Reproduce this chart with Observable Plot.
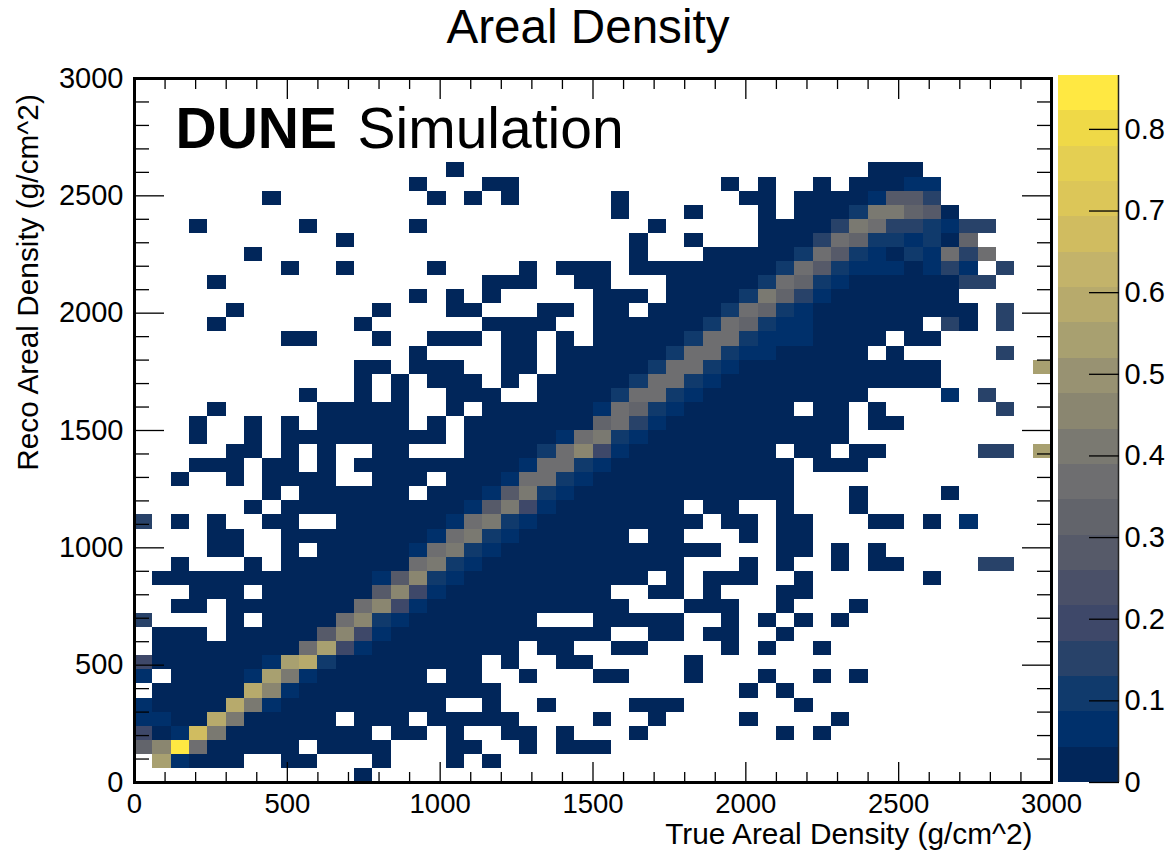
<!DOCTYPE html>
<html><head><meta charset="utf-8">
<script src="https://cdn.jsdelivr.net/npm/d3@7"></script>
<script src="https://cdn.jsdelivr.net/npm/@observablehq/plot@0.6"></script>
<style>
html,body{margin:0;padding:0;background:#fff}
#wrap{position:relative;width:1169px;height:851px;overflow:hidden}
#wrap svg{position:absolute;left:0;top:0;background:transparent;max-width:none}
</style></head><body><div id="wrap"></div>
<script>
const titleText = "Areal Density";
const xTitle = "True Areal Density (g/cm^2)";
const yTitle = "Reco Areal Density (g/cm^2)";
const binWidth = 60;
const baseValue = 0.015;
const zMax = 0.866;
const levelCount = 20;
const majorTicks = [0, 500, 1000, 1500, 2000, 2500, 3000];
const minorTicks = [100,200,300,400,600,700,800,900,1100,1200,1300,1400,1600,1700,1800,1900,2100,2200,2300,2400,2600,2700,2800,2900];
const zTicks = [0, 0.1, 0.2, 0.3, 0.4, 0.5, 0.6, 0.7, 0.8];
const palette = ["#01265a","#00306b","#103a6c","#284269","#3e4869","#4a5068","#565a69","#62646b","#6e6e70","#7a7971",
                 "#8a8670","#989272","#a8a070","#b7aa6c","#c3b36a","#d0bc60","#dcc658","#e4cf52","#efd947","#ffe842"];

// occupied bins per reco row (bottom row first), as true-bin index ranges
const occupiedRows = [
"12",
"1-5,8-9,13,17,19",
"0-8,10-13,17-18,21,23-25",
"0-12,14-15,17,20-21,23,27,35,37",
"0-10,12-14,16-20,25,28,33,38",
"0-16,19,22,27-29,36",
"1-19,33,35",
"0,2-15,17-18,21,25-26,30,34,37,39",
"0-18,20,23-24,30",
"1-20,22-23,26-27,32,34,37",
"1-3,5-25,28-29,31-32,35",
"0,5,7-21,25-29,32,34,36,38",
"2-3,5-26,30-32,35,39",
"3-5,7-25,28-29,31,35-36",
"1-27,29,31-33,36,43",
"2,6,8-29,33,35,38,40-41,46-47",
"4-5,8,10-31,35-36,38,40",
"4-5,8-26,28-29,33,35-36",
"0,2,4,7-8,11-30,32-33,35-36,40-41,43,45",
"6,8-29,31-32,35,39",
"7,9-14,16-35,39,44",
"2,5,7-10,13-15,17-35",
"3-5,7-8,10,12-35,37-39",
"5-6,8,10,13-14,18-34,36-37,39-40,46-47,49",
"3,6,8-16,18-38",
"3,6,8,10-14,16,18-38,40-41",
"4,10-14,17,19-35,37-38,40,47",
"9,12,14,17-19,22-39,44,46",
"12,14,16-18,20,22-43",
"12-13,15-17,20-21,23-43,49",
"15,20-21,23-39,41,47",
"8-9,13,16-18,20-21,23,25-40,42-43",
"4,12,19-22,25-42,44-45,47",
"5,13,17-18,22-23,25-26,28-45,47",
"15,17,19,25-27,29-44",
"4,19-21,24-25,29-46",
"8,11,16,21,23-25,27-45,47",
"6,27,31-46",
"11,27,30,34-45",
"3,9,15,28,34-46",
"26,30,34,36-44",
"7,16,18,20,26,33-34,36-43",
"15,19-20,32,34,37,39-43",
"17,40-42"
];

// brighter bins: [reco row, first true bin, values...]
const brightRuns = [
[1,1,.52,.05],
[2,0,.33,.45,.86,.37],
[3,0,.2,.03,.06,.68,.42],
[4,0,.05,.05],[4,4,.6,.42],
[5,0,.06],[5,5,.6,.42,.05],
[6,6,.6,.45,.05],
[7,0,.06],[7,6,.05,.52,.42,.05],
[8,0,.2],[8,7,.05,.52,.6,.1],
[9,9,.38,.55,.2,.05],
[10,10,.3,.47,.2,.05],
[11,0,.17],[11,11,.38,.45,.12,.08],
[12,12,.38,.45,.18,.05],
[13,13,.3,.45,.2,.05],
[14,13,.05,.3,.47,.12,.06],
[15,14,.04,.38,.42,.12,.07],[15,46,.17,.17],
[16,15,.05,.36,.4,.12,.05],
[17,16,.05,.36,.4,.12,.05],
[18,0,.17],[18,17,.05,.36,.42,.12,.05],[18,45,.05],
[19,18,.05,.3,.42,.18,.05],
[20,19,.05,.3,.4,.12,.05],
[21,20,.05,.38,.38,.12,.05],
[22,21,.05,.36,.38,.12,.08],
[23,22,.12,.38,.45,.2,.06],[23,46,.17,.17],[23,49,.55],
[24,23,.05,.38,.4,.1,.05],
[25,24,.04,.33,.38,.15,.06],
[26,25,.05,.38,.33,.1,.06],[26,47,.17],
[27,26,.1,.38,.35,.1,.05],[27,44,.05],[27,46,.17],
[28,27,.1,.38,.36,.1,.05],
[29,28,.1,.38,.36,.1,.07],[29,43,.03],[29,49,.55],
[30,29,.1,.35,.35,.1,.06,.06],[30,47,.17],
[31,30,.1,.38,.37,.1,.06,.06,.06],
[32,31,.1,.36,.32,.1,.06,.06],[32,44,.15,.03],[32,47,.17],
[33,32,.1,.36,.32,.1,.06],[33,45,.03],[33,47,.17],
[34,33,.1,.4,.33,.17,.06],[34,43,.03,.03],
[35,34,.1,.36,.32,.1,.05],[35,43,.03,.03,.17,.17],
[36,35,.1,.36,.27,.1,.05,.05,.05],[36,43,.05,.15,.05],[36,47,.17],
[37,36,.1,.35,.3,.12,.05],[37,42,.1,.05,.38,.15,.35],
[38,37,.17,.36,.32,.1,.1,.05,.1,.02,.33],
[39,38,.17,.4,.38,.17,.17,.12,.05,.17,.17],
[40,39,.1,.4,.4,.32,.3,.02],
[41,40,.05,.27,.27,.17],
[42,42,.05,.05]
];

const FONT = "Liberation Sans, Arial, sans-serif";
const values = new Map();
occupiedRows.forEach((spec, r) => {
  for (const part of spec.split(",")) {
    const [a, b = a] = part.split("-").map(Number);
    for (let c = a; c <= b; c++) values.set(r + ":" + c, baseValue);
  }
});
for (const [r, c0, ...vals] of brightRuns) vals.forEach((v, i) => values.set(r + ":" + (c0 + i), v));
const cells = [...values].map(([k, v]) => { const [r, c] = k.split(":").map(Number); return {r, c, v}; });

const step = zMax / levelCount;
const thresholds = d3.range(1, levelCount).map(i => i * step);
const colorOpts = {type: "threshold", domain: thresholds, range: palette};
const tick = {stroke: "black", strokeWidth: 1.3};

const main = Plot.plot({
  width: 1169, height: 851,
  marginLeft: 134, marginRight: 118, marginTop: 78, marginBottom: 69,
  style: {fontFamily: FONT, background: "transparent", overflow: "visible"},
  x: {domain: [0, 3000], axis: null},
  y: {domain: [0, 3000], axis: null},
  color: colorOpts,
  marks: [
    Plot.rect(cells, {x1: d => d.c * binWidth, x2: d => (d.c + 1) * binWidth, y1: d => d.r * binWidth, y2: d => (d.r + 1) * binWidth, fill: "v", shapeRendering: "crispEdges"}),
    Plot.axisX(majorTicks, {anchor: "bottom", tickSize: -20, tickPadding: 31, fontSize: 27.5, tickFormat: d => String(d), fill: "black", ...tick}),
    Plot.axisX(minorTicks, {anchor: "bottom", tickSize: -10, text: null, tickFormat: null, ...tick}),
    Plot.axisX(majorTicks, {anchor: "top", tickSize: -20, text: null, tickFormat: null, ...tick}),
    Plot.axisX(minorTicks, {anchor: "top", tickSize: -10, text: null, tickFormat: null, ...tick}),
    Plot.axisY(majorTicks, {anchor: "left", tickSize: -30, tickPadding: 41, fontSize: 29, tickFormat: d => String(d), fill: "black", ...tick}),
    Plot.axisY(minorTicks, {anchor: "left", tickSize: -15, text: null, tickFormat: null, ...tick}),
    Plot.axisY(majorTicks, {anchor: "right", tickSize: -30, text: null, tickFormat: null, ...tick}),
    Plot.axisY(minorTicks, {anchor: "right", tickSize: -15, text: null, tickFormat: null, ...tick}),
    Plot.frame({stroke: "black", strokeWidth: 3}),
    Plot.text([titleText], {frameAnchor: "top", dy: -51, dx: -5, fontSize: 47.6, fill: "black", textAnchor: "middle", lineAnchor: "middle"}),
    Plot.text([xTitle], {frameAnchor: "bottom-right", dx: -19, dy: 52, fontSize: 29.8, fill: "black", textAnchor: "end", lineAnchor: "middle"}),
    Plot.text([yTitle], {frameAnchor: "left", rotate: -90, dx: -106, dy: -148, fontSize: 29.8, fill: "black", textAnchor: "middle", lineAnchor: "middle"}),
    Plot.text(["DUNE"], {frameAnchor: "top-left", dx: 41, dy: 51, fontSize: 57, fontWeight: "bold", fill: "black", textAnchor: "start", lineAnchor: "middle"}),
    Plot.text(["Simulation"], {frameAnchor: "top-left", dx: 223, dy: 51, fontSize: 57, fill: "black", textAnchor: "start", lineAnchor: "middle"})
  ]
});

const barLevels = d3.range(levelCount).map(i => ({lo: i * step, hi: (i + 1) * step, v: (i + 0.5) * step}));
const bar = Plot.plot({
  width: 1169, height: 851,
  marginLeft: 1058, marginRight: 51, marginTop: 75, marginBottom: 69,
  style: {fontFamily: FONT, background: "transparent", overflow: "visible"},
  x: {domain: [0, 1], axis: null},
  y: {domain: [0, zMax], axis: null},
  color: colorOpts,
  marks: [
    Plot.rect(barLevels, {x1: 0, x2: 1, y1: "lo", y2: "hi", fill: "v", shapeRendering: "crispEdges"}),
    Plot.ruleX([1], {stroke: "#222", strokeWidth: 1.5}),
    Plot.axisY(zTicks, {anchor: "right", tickSize: -30, tickPadding: 36, fontSize: 29, textAnchor: "start", tickFormat: d => d === 0 ? "0" : d.toFixed(1), fill: "black", ...tick})
  ]
});

const wrap = document.getElementById("wrap");
wrap.append(main, bar);
</script></body></html>
